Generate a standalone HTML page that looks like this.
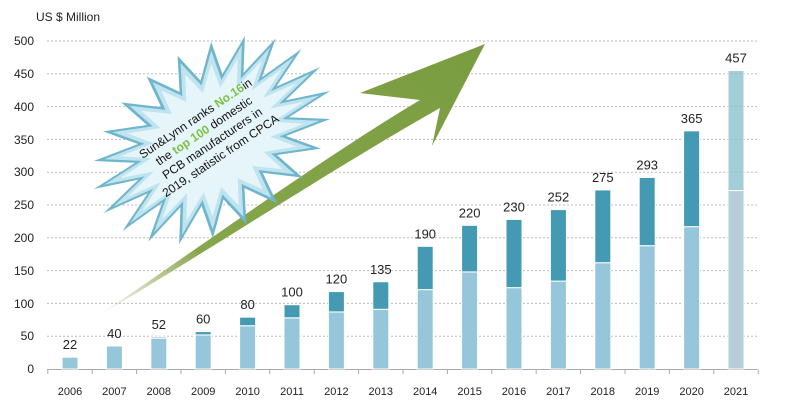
<!DOCTYPE html>
<html><head><meta charset="utf-8"><style>
body{margin:0;background:#fff;}
svg{display:block;font-family:"Liberation Sans",sans-serif;}
</style></head><body>
<svg width="786" height="418" viewBox="0 0 786 418" xmlns="http://www.w3.org/2000/svg">
<defs>
<linearGradient id="ag" x1="0" y1="1" x2="1" y2="0">
<stop offset="0" stop-color="#8aa84f" stop-opacity="0"/>
<stop offset="0.25" stop-color="#86a64b"/>
<stop offset="1" stop-color="#7a9c40"/>
</linearGradient>
</defs>
<text x="36" y="21" font-size="12" fill="#222">US $ Million</text>
<g stroke="#bbb" stroke-dasharray="2,2" stroke-width="1">
<line x1="47" x2="757" y1="41" y2="41"/><line x1="47" x2="757" y1="73.8" y2="73.8"/>
<line x1="47" x2="757" y1="106.6" y2="106.6"/><line x1="47" x2="757" y1="139.4" y2="139.4"/>
<line x1="47" x2="757" y1="172.2" y2="172.2"/><line x1="47" x2="757" y1="205" y2="205"/>
<line x1="47" x2="757" y1="237.8" y2="237.8"/><line x1="47" x2="757" y1="270.6" y2="270.6"/>
<line x1="47" x2="757" y1="303.4" y2="303.4"/><line x1="47" x2="757" y1="336.2" y2="336.2"/>
</g>
<line x1="47" x2="757" y1="369.5" y2="369.5" stroke="#aaa"/>
<g font-size="12" fill="#222" text-anchor="end">
<text x="34" y="45">500</text><text x="34" y="78">450</text><text x="34" y="111">400</text>
<text x="34" y="144">350</text><text x="34" y="176">300</text><text x="34" y="209">250</text>
<text x="34" y="242">200</text><text x="34" y="275">150</text><text x="34" y="308">100</text>
<text x="34" y="340">50</text><text x="34" y="373">0</text>
</g>
<path d="M98,316 C210,250 330,170 440,108 L432,146 L485,44 L360,93 L420,100 C320,160 210,240 98,316 Z" fill="url(#ag)"/>
<g id="stars"></g>
<script>
(function(){
var g=document.getElementById('stars');var ns='http://www.w3.org/2000/svg';
function star(ro,ri,fill){var n=22,p=[];for(var i=0;i<2*n;i++){var a=Math.PI*i/n,r=i%2?ri:ro;p.push((Math.cos(a)*r*1.45).toFixed(1)+','+(Math.sin(a)*r).toFixed(1));}
var e=document.createElementNS(ns,'polygon');e.setAttribute('points',p.join(' '));e.setAttribute('fill',fill);
e.setAttribute('transform','translate(212,140) rotate(-34)');g.appendChild(e);}
star(90,58,'#6fb6cc');star(82,53,'#bfe3ef');star(70,46,'#e6f5fa');
})();
</script>
<g transform="translate(210,140) rotate(-34)" font-size="12" fill="#111" text-anchor="middle">
<text x="0" y="-22">Sun&amp;Lynn ranks <tspan fill="#7dc142" font-weight="bold">No.16</tspan>in</text>
<text x="0" y="-7">the <tspan fill="#7dc142" font-weight="bold">top 100</tspan>   domestic</text>
<text x="0" y="8">PCB manufacturers in</text>
<text x="0" y="23">2019, statistic from CPCA</text>
</g>
<g id="bars"></g>
<script>
(function(){
var d=[[2006,18,18,22],[2007,35,35,40],[2008,47,49,52],[2009,52,57,60],[2010,66,79,80],[2011,78,98,100],[2012,87,118,120],[2013,91,133,135],[2014,121,187,190],[2015,148,219,220],[2016,124,228,230],[2017,134,243,252],[2018,162,273,275],[2019,188,292,293],[2020,217,363,365],[2021,272,455,457]];
var g=document.getElementById('bars'),ns='http://www.w3.org/2000/svg';
function el(t,a,tx){var e=document.createElementNS(ns,t);for(var k in a)e.setAttribute(k,a[k]);if(tx)e.textContent=tx;g.appendChild(e);return e;}
function y(v){return 369-v*0.656;}
d.forEach(function(r,i){var cx=70+i*44.4,last=i==15;
var lc=last?'#b5cdd8':'#95c6d9',dc=last?'rgba(140,192,205,0.8)':'#4499b3';
el('rect',{x:cx-8,y:y(r[1]),width:16,height:369-y(r[1]),fill:lc,stroke:'#fff','stroke-width':1});
if(r[2]>r[1])el('rect',{x:cx-8,y:y(r[2]),width:16,height:y(r[1])-y(r[2]),fill:dc,stroke:'#fff','stroke-width':1});
el('text',{x:cx,y:y(r[2])-8,'font-size':13,'text-anchor':'middle',fill:'#222'},String(r[3]));
el('text',{x:cx,y:395,'font-size':11,'text-anchor':'middle',fill:'#222'},String(r[0]));
el('line',{x1:cx+22.2,x2:cx+22.2,y1:369,y2:374,stroke:'#aaa'});
});
el('line',{x1:47.8,x2:47.8,y1:369,y2:374,stroke:'#aaa'});
})();
</script>
</svg>
</body></html>
